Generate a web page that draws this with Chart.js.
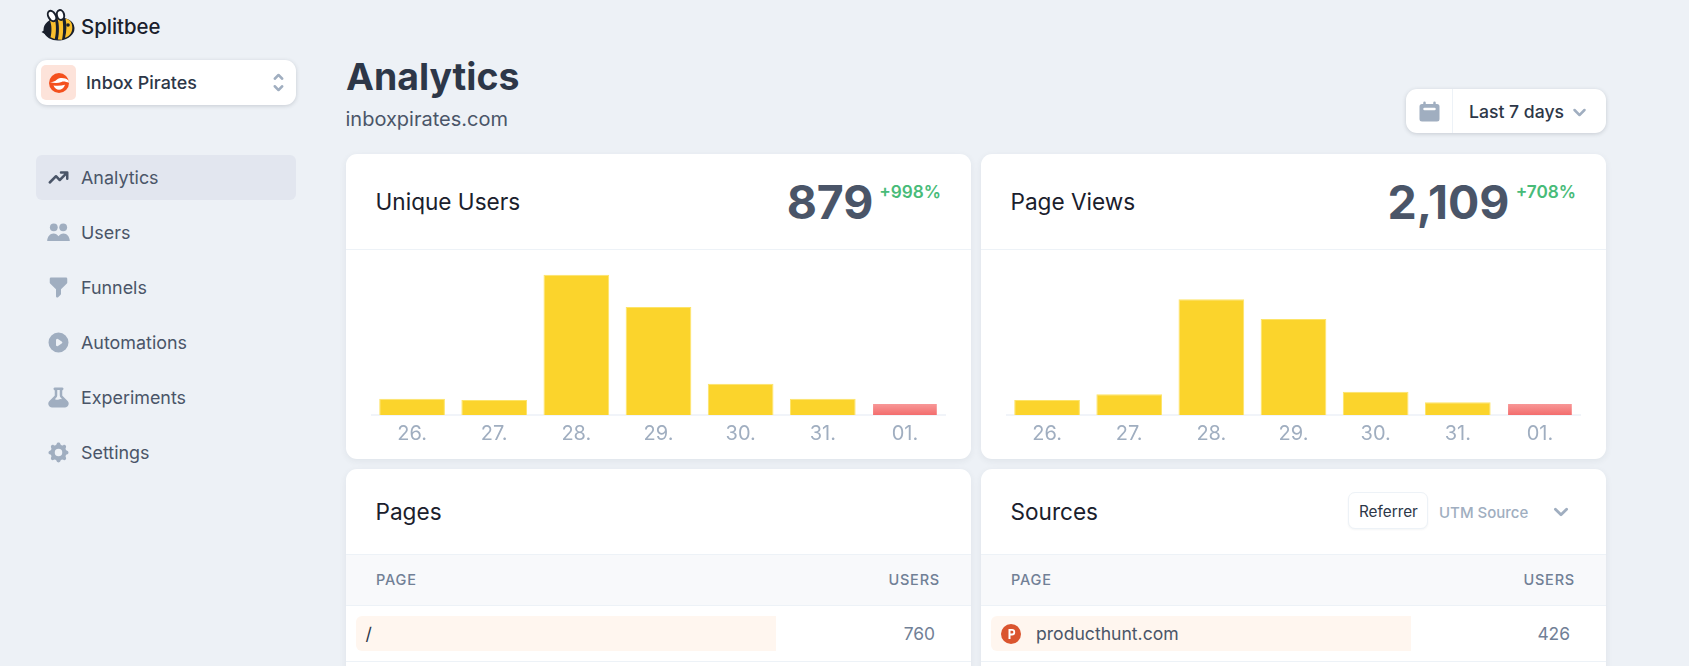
<!DOCTYPE html>
<html lang="en"><head><meta charset="utf-8"><title>Splitbee Analytics</title>
<script src="https://cdn.jsdelivr.net/npm/chart.js@4"></script>
<style>
html,body{margin:0;padding:0;width:1689px;height:666px;overflow:hidden;background:#edf1f6;font-family:Inter,sans-serif;}
.a{position:absolute;white-space:nowrap;}
.t{position:absolute;white-space:nowrap;transform:translateY(-50%);line-height:1;}
.card{position:absolute;background:#fff;border-radius:11px;box-shadow:0 2px 7px rgba(45,55,72,.07);overflow:hidden;}
.nav{font-size:17.9px;color:#4a5568;left:81px;}
.title{font-size:22.6px;font-weight:400;color:#1a202c;}
.head{font-size:14.5px;font-weight:500;letter-spacing:.8px;color:#718096;}
svg{position:absolute;display:block;}
.line{position:absolute;height:1px;background:#edf2f7;}
</style></head><body>
<svg style="left:40px;top:8px" width="38" height="34" viewBox="0 0 38 34"><path d="M1.500 24l7-4.500-1 8z" fill="#1a202c"/><ellipse cx="19" cy="21" rx="15.500" ry="11.500" transform="rotate(-6 19 21)" fill="#1a202c"/><path d="M10 12.800c1.800 4 1.900 12 .5 16.500l4.200 1.800c1.700-6 1.600-15 .1-20.200zM17.500 10.300c1.800 6 1.900 15 .3 21.200l4.200.2c1.500-6 1.500-16 .2-21.700z" fill="#fbc02d"/><path d="M25.500 10.800c4.500.3 7 4.500 6.800 9.200-.2 5-3 8.600-7.300 9.700 1.700-6 1.800-13.500.5-18.900z" fill="#fbc02d"/><circle cx="28" cy="17" r="1.800" fill="#1a202c"/><ellipse cx="12" cy="8" rx="3.600" ry="5.600" transform="rotate(-30 12 8)" fill="#fff" stroke="#1a202c" stroke-width="2"/><ellipse cx="20.500" cy="7" rx="3.600" ry="5" transform="rotate(-15 20.500 7)" fill="#fff" stroke="#1a202c" stroke-width="2"/></svg>
<div class="t" style="left:81px;top:27px;font-size:20.4px;font-weight:500;color:#1a202c">Splitbee</div>

<div class="a" style="left:36px;top:60px;width:260px;height:45px;background:#fff;border-radius:11px;box-shadow:0 1px 4px rgba(45,55,72,.2)"></div>
<div class="a" style="left:41px;top:65px;width:35px;height:35px;background:#fde3da;border-radius:5px"></div>
<svg style="left:49px;top:73px" width="20" height="20" viewBox="0 0 20 20"><circle cx="10" cy="10" r="10" fill="#f4511e"/><path d="M1 9c3 0 5-.5 7-2.500C11 4.500 16 4.500 19.500 7.500L20 9.800c-3-1-5.500-1.800-7.500-.8-3 1.200-7.500 1.300-11.500 0z" fill="#fff"/><path d="M4.500 12.500c4 .5 8 .3 11.500-.7-1 3.500-3.500 5-6 5s-4.500-1.800-5.500-4.300z" fill="#fff"/></svg>
<div class="t" style="left:86px;top:83px;font-size:17.9px;font-weight:500;color:#2d3748">Inbox Pirates</div>
<svg style="left:266px;top:70px" width="25" height="25" viewBox="0 0 20 20" fill="#a0aec0"><path fill-rule="evenodd" d="M10 3a1 1 0 01.707.293l3 3a1 1 0 01-1.414 1.414L10 5.414 7.707 7.707a1 1 0 01-1.414-1.414l3-3A1 1 0 0110 3zm-3.707 9.293a1 1 0 011.414 0L10 14.586l2.293-2.293a1 1 0 011.414 1.414l-3 3a1 1 0 01-1.414 0l-3-3a1 1 0 010-1.414z"/></svg>

<div class="a" style="left:36px;top:155px;width:260px;height:45px;background:#e2e6ef;border-radius:6px"></div>
<svg style="left:46px;top:165px" width="25" height="25" viewBox="0 0 20 20" fill="#4a5568"><path d="M12 7a1 1 0 110-2h5a1 1 0 011 1v5a1 1 0 11-2 0V8.414l-4.293 4.293a1 1 0 01-1.414 0L8 10.414l-4.293 4.293a1 1 0 01-1.414-1.414l5-5a1 1 0 011.414 0L11 10.586 14.586 7H12z"/></svg>
<div class="t nav" style="top:177.500px">Analytics</div>
<svg style="left:46px;top:220px" width="25" height="25" viewBox="0 0 25 25" fill="#a0aec0"><circle cx="7.800" cy="7.300" r="3.900"/><circle cx="17.200" cy="7.300" r="3.900"/><path d="M1.200 21c0-4.200 2.800-7.600 6.300-7.600 2.100 0 3.900 1.100 5 2.900 1.100-1.800 2.900-2.900 5-2.900 3.500 0 6.300 3.400 6.300 7.600z"/></svg>
<div class="t nav" style="top:232.500px">Users</div>
<svg style="left:46px;top:275px" width="25" height="25" viewBox="0 0 20 20" fill="#a0aec0"><path d="M3 3a1 1 0 011-1h12a1 1 0 011 1v3a1 1 0 01-.293.707L12 11.414V15a1 1 0 01-.293.707l-2 2A1 1 0 018 17v-5.586L3.293 6.707A1 1 0 013 6V3z"/></svg>
<div class="t nav" style="top:287.500px">Funnels</div>
<svg style="left:46px;top:330px" width="25" height="25" viewBox="0 0 20 20" fill="#a0aec0"><path fill-rule="evenodd" d="M10 18a8 8 0 100-16 8 8 0 000 16zM9.555 7.168A1 1 0 008 8v4a1 1 0 001.555.832l3-2a1 1 0 000-1.664l-3-2z"/></svg>
<div class="t nav" style="top:342.500px">Automations</div>
<svg style="left:46px;top:385px" width="25" height="25" viewBox="0 0 20 20" fill="#a0aec0"><path fill-rule="evenodd" d="M7 2a1 1 0 00-.707 1.707L7 4.414v3.758a1 1 0 01-.293.707l-4 4C.817 14.769 2.156 18 4.828 18h10.343c2.673 0 4.012-3.231 2.122-5.121l-4-4A1 1 0 0113 8.172V4.414l.707-.707A1 1 0 0013 2H7zm2 6.172V4h2v4.172a3 3 0 00.879 2.120l1.027 1.028a4 4 0 00-2.171.102l-.47.156a4 4 0 01-2.530 0l-.563-.187a1.993 1.993 0 00-.114-.035l1.063-1.063A3 3 0 009 8.172z"/></svg>
<div class="t nav" style="top:397.500px">Experiments</div>
<svg style="left:46px;top:440px" width="25" height="25" viewBox="0 0 20 20" fill="#a0aec0"><path fill-rule="evenodd" d="M11.490 3.170c-.38-1.560-2.600-1.560-2.980 0a1.532 1.532 0 01-2.286.948c-1.372-.836-2.942.734-2.106 2.106.54.886.061 2.042-.947 2.287-1.561.379-1.561 2.600 0 2.978a1.532 1.532 0 01.947 2.287c-.836 1.372.734 2.942 2.106 2.106a1.532 1.532 0 012.287.947c.379 1.561 2.600 1.561 2.978 0a1.533 1.533 0 012.287-.947c1.372.836 2.942-.734 2.106-2.106a1.533 1.533 0 01.947-2.287c1.561-.379 1.561-2.600 0-2.978a1.532 1.532 0 01-.947-2.287c.836-1.372-.734-2.942-2.106-2.106a1.532 1.532 0 01-2.287-.947zM10 13a3 3 0 100-6 3 3 0 000 6z"/></svg>
<div class="t nav" style="top:452.500px">Settings</div>

<div class="t" style="left:346px;top:76.500px;font-size:37.4px;font-weight:700;color:#2d3748">Analytics</div>
<div class="t" style="left:345.500px;top:119px;font-size:20px;color:#4a5568">inboxpirates.com</div>

<div class="a" style="left:1406px;top:89px;width:200px;height:44px;background:#fff;border-radius:11px;box-shadow:0 1px 4px rgba(45,55,72,.2)"></div>
<div class="a" style="left:1452px;top:89px;width:1px;height:44px;background:#edf2f7"></div>
<svg style="left:1417px;top:99px" width="25" height="25" viewBox="0 0 20 20" fill="#a0aec0"><path fill-rule="evenodd" d="M6 2a1 1 0 00-1 1v1H4a2 2 0 00-2 2v10a2 2 0 002 2h12a2 2 0 002-2V6a2 2 0 00-2-2h-1V3a1 1 0 10-2 0v1H7V3a1 1 0 00-1-1zm0 5a1 1 0 000 2h8a1 1 0 100-2H6z"/></svg>
<div class="t" style="left:1469px;top:112px;font-size:17.6px;font-weight:500;color:#2d3748">Last 7 days</div>
<svg style="left:1567px;top:100px" width="25" height="25" viewBox="0 0 20 20" fill="#a0aec0"><path fill-rule="evenodd" d="M5.293 7.293a1 1 0 011.414 0L10 10.586l3.293-3.293a1 1 0 111.414 1.414l-4 4a1 1 0 01-1.414 0l-4-4a1 1 0 010-1.414z"/></svg>

<div class="card" style="left:346px;top:154px;width:625px;height:305px"></div>
<div class="card" style="left:981px;top:154px;width:625px;height:305px"></div>
<div class="line" style="left:346px;top:249px;width:625px"></div>
<div class="line" style="left:981px;top:249px;width:625px"></div>
<div class="t title" style="left:375.500px;top:201.500px">Unique Users</div>
<div class="t title" style="left:1010.500px;top:201.500px">Page Views</div>
<div class="t" style="right:815.500px;top:202px;font-size:46.4px;font-weight:700;color:#4a5568">879</div>
<div class="t" style="right:179.500px;top:202px;font-size:46.4px;font-weight:700;color:#4a5568">2,109</div>
<div class="t" style="right:748px;top:192px;font-size:17.2px;font-weight:600;color:#48bb78">+998%</div>
<div class="t" style="right:113px;top:192px;font-size:17.2px;font-weight:600;color:#48bb78">+708%</div>

<canvas id="uniqueChart" class="a" style="left:371px;top:260px" width="575" height="190"></canvas>
<canvas id="viewsChart" class="a" style="left:1006px;top:260px" width="575" height="190"></canvas>

<div class="card" style="left:346px;top:469px;width:625px;height:230px"></div>
<div class="card" style="left:981px;top:469px;width:625px;height:230px"></div>
<div class="a" style="left:346px;top:554px;width:625px;height:52px;background:#f8f9fb;border-top:1px solid #edf2f7;border-bottom:1px solid #edf2f7;box-sizing:border-box"></div>
<div class="a" style="left:981px;top:554px;width:625px;height:52px;background:#f8f9fb;border-top:1px solid #edf2f7;border-bottom:1px solid #edf2f7;box-sizing:border-box"></div>
<div class="t title" style="left:375.500px;top:511.500px">Pages</div>
<div class="t title" style="left:1010.500px;top:511.500px">Sources</div>
<div class="a" style="left:1348px;top:492px;width:80px;height:37px;box-sizing:border-box;background:#fff;border:1px solid #edf2f7;border-radius:7px;box-shadow:0 1px 2px rgba(45,55,72,.05)"></div>
<div class="t" style="left:1359px;top:512px;font-size:15.3px;font-weight:400;color:#2d3748">Referrer</div>
<div class="t" style="left:1439px;top:512px;font-size:15px;font-weight:500;color:#a0aec0">UTM Source</div>
<svg style="left:1547px;top:498px" width="28" height="28" viewBox="0 0 20 20" fill="#a0aec0"><path fill-rule="evenodd" d="M5.293 7.293a1 1 0 011.414 0L10 10.586l3.293-3.293a1 1 0 111.414 1.414l-4 4a1 1 0 01-1.414 0l-4-4a1 1 0 010-1.414z"/></svg>
<div class="t head" style="left:376px;top:579.500px">PAGE</div>
<div class="t head" style="right:749px;top:579.500px">USERS</div>
<div class="t head" style="left:1011px;top:579.500px">PAGE</div>
<div class="t head" style="right:114px;top:579.500px">USERS</div>
<div class="a" style="left:356px;top:616px;width:420px;height:35px;background:#fff6ef;border-radius:6px 0 0 6px"></div>
<div class="a" style="left:991px;top:616px;width:420px;height:35px;background:#fff6ef;border-radius:6px 0 0 6px"></div>
<div class="line" style="left:346px;top:661px;width:625px"></div>
<div class="line" style="left:981px;top:661px;width:625px"></div>
<div class="t" style="left:365.500px;top:634px;font-size:17.6px;color:#2d3748">/</div>
<svg style="left:1001px;top:624px" width="20" height="20" viewBox="0 0 20 20"><circle cx="10" cy="10" r="10" fill="#da552f"/><path d="M7.500 5h3.500a3.200 3.200 0 010 6.400H9.500V15h-2zM9.500 6.800v2.800H11a1.400 1.400 0 000-2.800z" fill="#fff"/></svg>
<div class="t" style="left:1036px;top:634px;font-size:17.6px;color:#4a5568">producthunt.com</div>
<div class="t" style="right:754px;top:634px;font-size:17.4px;color:#718096">760</div>
<div class="t" style="right:119px;top:634px;font-size:17.4px;color:#718096">426</div>

<script>
const days = ['26.', '27.', '28.', '29.', '30.', '31.', '01.'];
const uniqueUsers = [42, 39, 364, 280, 81, 42, 31];
const pageViews = [107, 148, 826, 685, 166, 91, 86];
const uniqueMax = 402;
const viewsMax = 1106;
const partialIndex = 6;

function barFill(c) {
  if (c.dataIndex !== partialIndex) return '#fbd42c';
  const area = c.chart.chartArea;
  if (!area) return '#f67f7f';
  const y = c.chart.scales.y;
  const g = c.chart.ctx.createLinearGradient(0, y.getPixelForValue(c.raw), 0, area.bottom);
  g.addColorStop(0, '#f89b9b');
  g.addColorStop(1, '#f36d6d');
  return g;
}
function barEdge(c) {
  return c.dataIndex === partialIndex ? 'rgba(0,0,0,0)' : '#fde468';
}
function makeChart(id, values, yMax) {
  return new Chart(document.getElementById(id), {
    type: 'bar',
    data: { labels: days, datasets: [{ data: values, backgroundColor: barFill, borderColor: barEdge,
      borderWidth: 1, barPercentage: 0.8, categoryPercentage: 1 }] },
    options: {
      responsive: false, animation: false, events: [],
      layout: { padding: 0 },
      plugins: { legend: { display: false }, tooltip: { enabled: false } },
      scales: {
        y: { display: false, min: 0, max: yMax },
        x: {
          grid: { display: false, drawTicks: false },
          border: { color: '#f1f4f9', width: 2 },
          ticks: { color: '#a0aec0', font: { family: 'Inter', size: 20 }, padding: 7, maxRotation: 0 },
          afterFit(s) { s.height = 35; }
        }
      }
    }
  });
}
makeChart('uniqueChart', uniqueUsers, uniqueMax);
makeChart('viewsChart', pageViews, viewsMax);
</script>
</body></html>
